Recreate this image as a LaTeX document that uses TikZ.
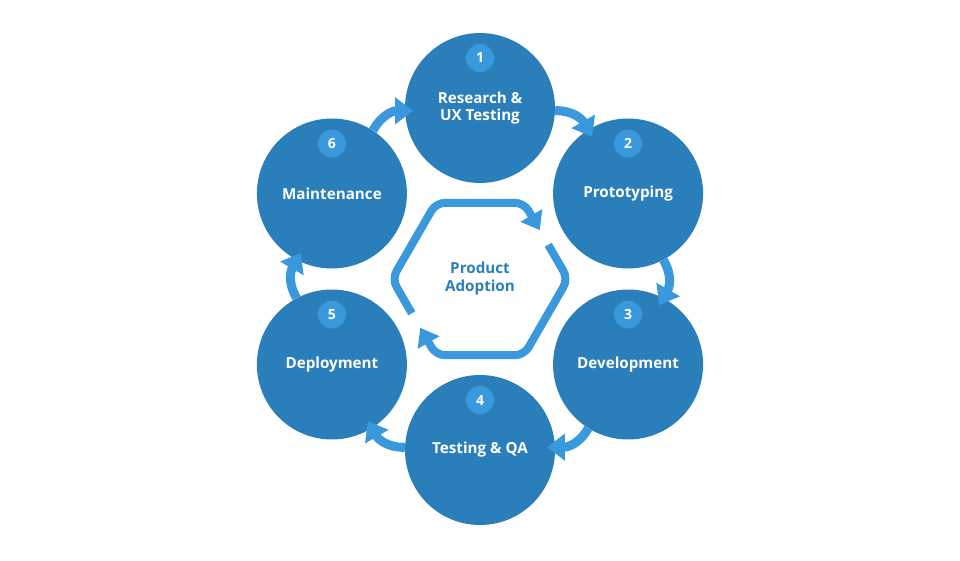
\documentclass[tikz,border=0pt]{standalone}
\usepackage{fontspec}
\setmainfont{Open Sans}
\usetikzlibrary{arrows.meta,calc}
\definecolor{darkblue}{HTML}{2A7FBA}
\definecolor{lightblue}{HTML}{3A98DC}
\begin{document}
\begin{tikzpicture}[x=1pt,y=1pt,
  stage/.style={circle, fill=darkblue, minimum size=150pt, inner sep=0pt, text=white,
    font=\bfseries\fontsize{15.2}{17.5}\selectfont, align=center},
  badge/.style={circle, fill=lightblue, minimum size=28pt, inner sep=0pt, text=white,
    font=\bfseries\fontsize{14}{14}\selectfont},
  flow/.style={draw=lightblue, line width=9pt, -{Triangle[width=26pt,length=18pt]}},
  hexflow/.style={draw=lightblue, line width=8pt, rounded corners=9pt,
    -{Triangle[width=24pt,length=17pt]}},
  centre/.style={text=darkblue, font=\bfseries\fontsize{15.2}{18}\selectfont, align=center}
]
\useasboundingbox (-480,-281) rectangle (480,279);

% stages
\node[stage] (c1) at (90:171)   {Research \&\\UX Testing};
\node[stage] (c2) at (30:171)   {Prototyping};
\node[stage] (c3) at (-30:171)  {Development};
\node[stage] (c4) at (-90:171)  {Testing \& QA};
\node[stage] (c5) at (-150:171) {Deployment};
\node[stage] (c6) at (150:171)  {Maintenance};

% badges
\foreach \i in {1,...,6}
  \path (c\i) ++(0,50) node[badge] (b\i) {\i};

% curved arrows between stages
\foreach \i/\j/\a [evaluate=\a as \sa using \a-92.2,
   evaluate=\a as \ta using \a-60+92.4,
   evaluate=\a as \oa using \a-90,
   evaluate=\a as \ia using \a+30] in {6/1/150, 1/2/90, 2/3/30, 3/4/-30, 4/5/-90, 5/6/-150}
  {
  \coordinate (t\i) at ($(c\j)+(\ta:67)$);
  \draw[flow] (c\i.\sa) to[out=\oa, in=\ia, looseness=1.1] (t\i);
  }

% central hexagon cycle
\node[centre] (core) at (0,0) {Product\\Adoption};
\coordinate (h0) at (0:88);
\coordinate (h60) at (60:88);
\coordinate (h120) at (120:88);
\coordinate (h180) at (180:88);
\coordinate (h240) at (240:88);
\coordinate (h300) at (300:88);
\coordinate (sa) at ($(h180)!0.45!(h240)$);
\coordinate (ea) at ($(h60)!0.36!(h0)$);
\coordinate (sb) at ($(h60)!0.55!(h0)$);
\coordinate (eb) at ($(h240)!0.36!(h180)$);
\draw[hexflow] (sa) -- (h180) -- (h120) -- (h60) -- (ea);
\draw[hexflow] (sb) -- (h0) -- (h300) -- (h240) -- (eb);
\end{tikzpicture}
\end{document}
